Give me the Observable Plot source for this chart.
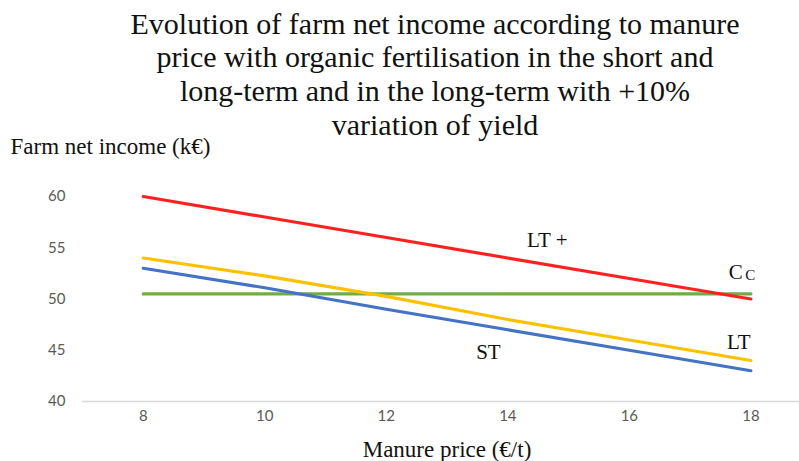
<!DOCTYPE html>
<html>
<head>
<meta charset="utf-8">
<script src="https://cdn.jsdelivr.net/npm/d3@7"></script>
<script src="https://cdn.jsdelivr.net/npm/@observablehq/plot@0.6"></script>
<style>
  html, body { margin: 0; padding: 0; background: #fff; overflow: hidden; }
</style>
</head>
<body>
<div id="chart"></div>
<script>
const prices = [8, 10, 12, 14, 16, 18];
const ltPlus = [60, 58, 56, 54, 52, 50];
const lt = [54, 52.25, 50.25, 48.0, 46.0, 44.0];
const st = [53, 51.1, 49.0, 47.0, 45.0, 43.0];
const cc = [50.5, 50.5, 50.5, 50.5, 50.5, 50.5];
const seriesNames = ["LT +", "LT", "ST", "Cc"];
const seriesColors = ["#FF2020", "#FFC000", "#4472C4", "#70AD47"];
const yTicks = [40, 45, 50, 55, 60];
const xTicks = [8, 10, 12, 14, 16, 18];

const titleText = "Evolution of farm net income according to manure\nprice with organic fertilisation in the short and\nlong-term and in the long-term with +10%\nvariation of yield";
const yTitle = "Farm net income (k€)";
const xTitle = "Manure price (€/t)";

const labelText = ["LT +", "C", "LT", "ST"];
const labelX = [14.65, 17.75, 17.8, 13.68];
const labelY = [55.7, 52.6, 45.75, 44.8];
const smallLabelText = ["C"];
const smallLabelX = [17.99];
const smallLabelY = [52.55];

const allSeries = [ltPlus, lt, st, cc];
const rows = [];
allSeries.forEach((vals, i) => vals.forEach((v, j) => rows.push({series: seriesNames[i], price: prices[j], value: v})));
const labels = labelText.map((t, i) => ({t, x: labelX[i], y: labelY[i]}));
const smallLabels = smallLabelText.map((t, i) => ({t, x: smallLabelX[i], y: smallLabelY[i]}));

const serif = "Liberation Serif, Times New Roman, serif";

const chart = Plot.plot({
  width: 799,
  height: 461,
  marginTop: 196,
  marginBottom: 60,
  marginLeft: 82,
  marginRight: 0,
  style: {background: "#fff", fontFamily: "Lato, 'Open Sans', sans-serif", fontSize: "15px", color: "#595959", overflow: "visible"},
  x: {domain: [7, 18.8], ticks: xTicks, tickSize: 0, tickPadding: 9, label: null},
  y: {domain: [40, 60], ticks: yTicks, tickSize: 0, tickPadding: 17, label: null},
  color: {domain: seriesNames, range: seriesColors},
  marks: [
    Plot.ruleY([40], {stroke: "#D9D9D9", strokeWidth: 1.3}),
    Plot.line(rows.filter(d => d.series === "Cc"), {x: "price", y: "value", stroke: "series", strokeWidth: 3.2}),
    Plot.line(rows.filter(d => d.series !== "Cc"), {x: "price", y: "value", z: "series", stroke: "series", strokeWidth: 3.2}),
    Plot.text(labels, {x: "x", y: "y", text: "t", fontFamily: serif, fontSize: 21, fill: "#111"}),
    Plot.text(smallLabels, {x: "x", y: "y", text: "t", fontFamily: serif, fontSize: 15, fill: "#111", dy: 2}),
    Plot.text([titleText], {frameAnchor: "top", lineAnchor: "top", dx: -6, dy: -187, fontFamily: serif, fontSize: 30, lineHeight: 1.13, fill: "#111"}),
    Plot.text([yTitle], {frameAnchor: "top-left", textAnchor: "start", dx: -72, dy: -59, fontFamily: serif, fontSize: 23, fill: "#111"}),
    Plot.text([xTitle], {frameAnchor: "bottom", dx: 6, dy: 55.5, fontFamily: serif, fontSize: 23, fill: "#111"})
  ]
});
document.getElementById("chart").appendChild(chart);
</script>
</body>
</html>
